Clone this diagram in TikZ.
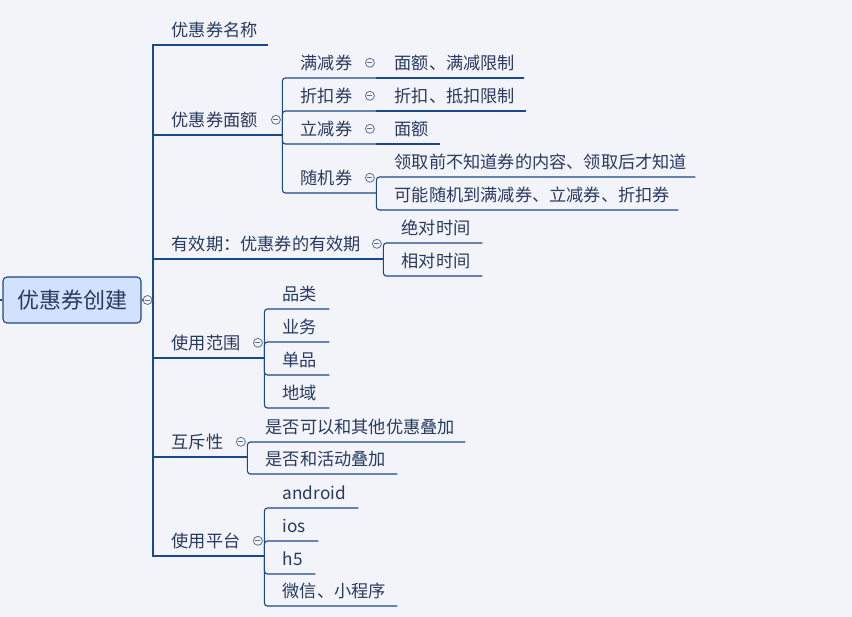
\documentclass[tikz,border=0pt]{standalone}
\usepackage{fontspec}
\setmainfont{Noto Sans CJK SC}
\usepackage{xcolor}
\definecolor{bgcol}{RGB}{243,244,250}
\definecolor{linecol}{RGB}{25,72,140}
\definecolor{txtcol}{RGB}{40,58,95}
\definecolor{rootfill}{RGB}{210,225,252}
\definecolor{foldcol}{RGB}{90,112,145}

\tikzset{
    topic/.style={anchor=south west, inner sep=0pt, text width=#1, align=left,
        minimum height=30pt, text height=14.8pt, text depth=2pt, text=txtcol,
        font=\fontsize{17.2}{20}\selectfont, execute at begin node={\hyphenpenalty=10000\hspace*{18.5pt}}},
    link/.style={draw=linecol, line width=1.1pt},
    fold/.style={circle, draw=foldcol, fill=bgcol, line width=0.8pt, minimum size=9pt, inner sep=0pt,
        path picture={\draw[foldcol, line width=0.8pt]
            ([xshift=-2.5pt]path picture bounding box.center) -- ([xshift=2.5pt]path picture bounding box.center);}}
}

\begin{document}
\begin{tikzpicture}[x=1pt, y=-1pt]
    \fill[bgcol] (0,0) rectangle (852,617);
    \useasboundingbox (0,0) rectangle (852,617);

    % root
    \node[draw=linecol, line width=1.1pt, fill=rootfill, rounded corners=4pt, minimum width=138pt, minimum height=46pt,
        text=txtcol, font=\fontsize{22}{26}\selectfont] (root) at (72,300) {优惠券创建};
    \coordinate (rootIn) at (0,300);
    \coordinate (trunk) at (153,300);

    % first level
    \node[topic=115pt] (name) at (153,45) {优惠券名称};
    \node[topic=129pt] (mianE) at (153,135) {优惠券面额};
    \node[topic=230pt] (youxiao) at (153,259) {有效期：优惠券的有效期};
    \node[topic=111pt] (fanwei) at (153,358) {使用范围};
    \node[topic=94pt] (huchi) at (153,457) {互斥性};
    \node[topic=111pt] (pingtai) at (153,556) {使用平台};

    % coupon types
    \node[topic=94pt] (manjian) at (282,78) {满减券};
    \node[topic=94pt] (zhekou) at (282,111) {折扣券};
    \node[topic=94pt] (lijian) at (282,144) {立减券};
    \node[topic=94pt] (suiji) at (282,193) {随机券};
    \node[topic=148pt] (manjianD) at (376,78) {面额、满减限制};
    \node[topic=150pt] (zhekouD) at (376,111) {折扣、抵扣限制};
    \node[topic=64pt] (lijianD) at (376,144) {面额};
    \node[topic=319pt] (suijiA) at (376,177) {领取前不知道券的内容、领取后才知道};
    \node[topic=302pt] (suijiB) at (376,210) {可能随机到满减券、立减券、折扣券};

    % validity
    \node[topic=99pt] (jueDui) at (383,243) {绝对时间};
    \node[topic=99pt] (xiangDui) at (383,276) {相对时间};

    % scope
    \node[topic=65pt] (pinlei) at (264,309) {品类};
    \node[topic=65pt] (yewu) at (264,342) {业务};
    \node[topic=65pt] (danpin) at (264,375) {单品};
    \node[topic=65pt] (diyu) at (264,408) {地域};

    % exclusion
    \node[topic=218pt] (dieA) at (247,442) {是否可以和其他优惠叠加};
    \node[topic=150pt] (dieB) at (247,474) {是否和活动叠加};

    % platforms
    \node[topic=94pt] (android) at (264,508) {android};
    \node[topic=54pt] (ios) at (264,541) {ios};
    \node[topic=51pt] (hfive) at (264,574) {h5};
    \node[topic=133pt] (weixin) at (264,606) {微信、小程序};

    % connectors
    \draw[link] (rootIn) -- (root.west);
    \draw[link] (root.east) -- (trunk);
    \foreach \c in {name,mianE,youxiao,fanwei,huchi,pingtai}
        \draw[link] (trunk) |- (\c.south east);
    \foreach \c in {manjian,zhekou,lijian,suiji}
        \draw[link, rounded corners=3pt] (mianE.south east) |- (\c.south east);
    \draw[link] (manjian.south east) -- (manjianD.south east);
    \draw[link] (zhekou.south east) -- (zhekouD.south east);
    \draw[link] (lijian.south east) -- (lijianD.south east);
    \foreach \c in {suijiA,suijiB}
        \draw[link, rounded corners=3pt] (suiji.south east) |- (\c.south east);
    \foreach \c in {jueDui,xiangDui}
        \draw[link, rounded corners=3pt] (youxiao.south east) |- (\c.south east);
    \foreach \c in {pinlei,yewu,danpin,diyu}
        \draw[link, rounded corners=3pt] (fanwei.south east) |- (\c.south east);
    \foreach \c in {dieA,dieB}
        \draw[link, rounded corners=3pt] (huchi.south east) |- (\c.south east);
    \foreach \c in {android,ios,hfive,weixin}
        \draw[link, rounded corners=3pt] (pingtai.south east) |- (\c.south east);

    % fold markers
    \node[fold] (rootF) at ([xshift=6pt]root.east) {};
    \foreach \c in {mianE,youxiao,fanwei,huchi,pingtai,manjian,zhekou,lijian,suiji}
        \node[fold] (\c F) at ([xshift=-6.5pt]\c.east) {};
\end{tikzpicture}
\end{document}
